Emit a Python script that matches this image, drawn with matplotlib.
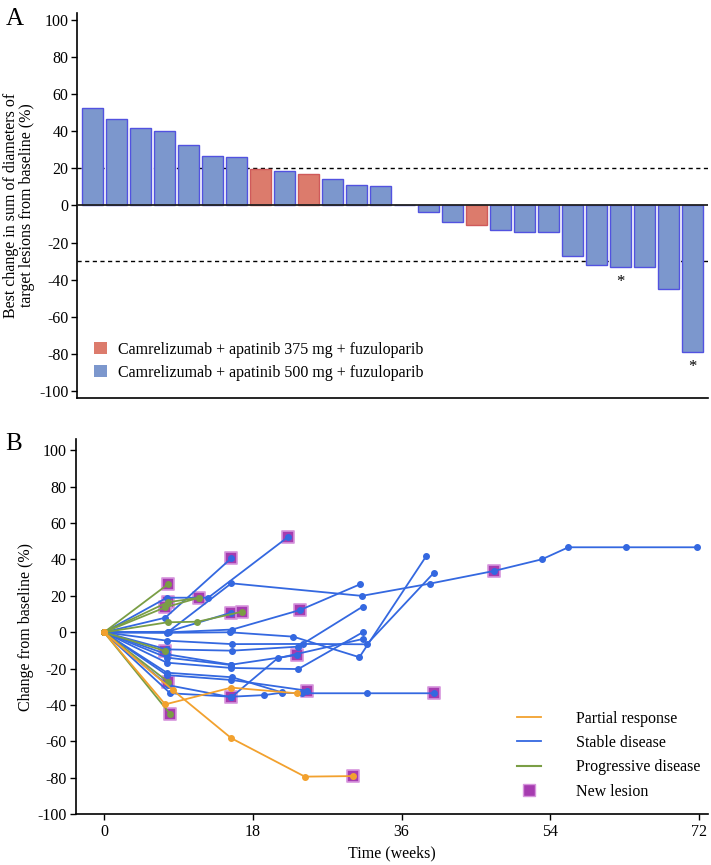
import matplotlib.pyplot as plt
from matplotlib.lines import Line2D
from matplotlib.patches import Patch

plt.rcParams['font.family'] = ['Liberation Serif', 'DejaVu Serif']
plt.rcParams['font.size'] = 11
plt.rcParams['axes.unicode_minus'] = False

# ---- panel A: waterfall ----
best_change = [52.5, 46.9, 42.1, 40.3, 32.8, 26.7, 26.3, 19.7, 18.8, 17.0, 14.3, 11.3, 10.4, 0.0,
               -3.6, -9.0, -10.6, -13.1, -14.2, -14.3, -27.2, -32.1, -33.2, -33.2, -45.3, -78.9]
dose_group = ['500'] * 7 + ['375', '500', '375'] + ['500'] * 6 + ['375'] + ['500'] * 9
asterisk_bars = [22, 25]
group_labels = {'375': 'Camrelizumab + apatinib 375 mg + fuzuloparib',
                '500': 'Camrelizumab + apatinib 500 mg + fuzuloparib'}

# ---- panel B: spider plot (weeks, % change) ----
sd_weeks = [[0, 7.6, 12.6, 22.3],
            [0, 7.4, 15.4],
            [0, 7.7, 15.4, 31.2, 39.4, 47.2, 53.0, 56.2, 63.2, 71.8],
            [0, 7.8, 15.5, 23.7, 31.0],
            [0, 7.6, 15.2, 22.9, 30.9, 39.0],
            [0, 7.6, 15.5, 24.1, 31.8, 39.9],
            [0, 7.7, 15.4],
            [0, 7.6, 15.5, 23.5, 31.3],
            [0, 7.6, 15.4, 23.3],
            [0, 7.7, 15.4, 21.0, 31.3],
            [0, 7.6, 15.4, 23.5, 31.3],
            [0, 8.0, 15.4, 19.4, 21.5, 23.9, 31.8, 39.9],
            [0, 7.6, 15.4, 24.6],
            [0, 7.6, 15.5, 21.5],
            [0, 7.6, 15.4]]
sd_change = [[0, 19.0, 19.0, 52.5],
             [0, 8.0, 40.7],
             [0, 0, 26.9, 20.0, 26.7, 33.7, 40.1, 46.7, 46.7, 46.7],
             [0, 0, 1.5, 12.2, 26.4],
             [0, -0.3, 0, -2.4, -13.7, 41.9],
             [0, -4.6, -6.5, -6.4, -6.6, 32.6],
             [0, 0.3, 10.8],
             [0, -9.4, -10.1, -7.9, 14.1],
             [0, -12.1, -17.8, -12.5],
             [0, -29.0, -35.7, -14.3, -3.7],
             [0, -16.7, -19.6, -20.2, 0],
             [0, -33.5, -35.4, -34.5, -33.2, -33.5, -33.5, -33.5],
             [0, -23.5, -26.2, -32.1],
             [0, -22.2, -24.7, -33.0],
             [0, -13.9, -18.0]]

pd_weeks = [[0, 7.7], [0, 7.7, 11.5], [0, 7.4, 11.5], [0, 7.7, 11.3, 16.7],
            [0, 7.4], [0, 7.7], [0, 8.0]]
pd_change = [[0, 26.3], [0, 16.5, 19.0], [0, 13.7, 19.0], [0, 5.5, 5.8, 11.3],
             [0, -10.3], [0, -27.1], [0, -44.9]]

pr_weeks = [[0, 7.4, 15.4, 23.3], [0, 8.3, 15.4, 24.3, 30.1]]
pr_change = [[0, -39.6, -30.4, -33.5], [0, -31.7, -58.2, -79.3, -79.0]]

new_lesion_weeks = [22.3, 15.4, 47.2, 23.7, 15.4, 23.3, 15.4, 39.9, 24.6, 30.1,
                    7.7, 7.7, 11.5, 7.4, 16.7, 7.4, 7.7, 8.0]
new_lesion_change = [52.5, 40.7, 33.7, 12.2, 10.8, -12.5, -35.7, -33.5, -32.1, -79.0,
                     26.3, 16.5, 19.0, 13.7, 11.3, -10.3, -27.1, -44.9]

bar_fill = {'375': '#DC7B6C', '500': '#7C97CD'}
bar_edge = {'375': '#CF5A5A', '500': '#5252E0'}
c_pr, c_sd, c_pd = '#F2A12E', '#3468E0', '#7A9E45'

fig = plt.figure(figsize=(7.11, 8.65), dpi=100)
ax1 = fig.add_axes([0.1083, 0.5399, 0.8875, 0.4451])
ax2 = fig.add_axes([0.1069, 0.0586, 0.8889, 0.4335])

# panel A
xs = list(range(len(best_change)))
ax1.axhline(20, color='black', ls=(0, (3, 2.5)), lw=1, zorder=1)
ax1.axhline(-30, color='black', ls=(0, (3, 2.5)), lw=1, zorder=1)
ax1.bar(xs, best_change, width=0.87,
        color=[bar_fill[g] for g in dose_group],
        edgecolor=[bar_edge[g] for g in dose_group], linewidth=1, zorder=2)
ax1.axhline(0, color='#222222', lw=1.3, zorder=3)
for i in asterisk_bars:
    ax1.text(i, best_change[i] - 4, '*', ha='center', va='top', fontsize=12)
ax1.set_xlim(-0.64, len(best_change) - 0.36)
ax1.set_ylim(-104, 104)
ax1.set_yticks(range(-100, 101, 20))
ax1.set_xticks([])
ax1.spines['top'].set_visible(False)
ax1.spines['right'].set_visible(False)
ax1.spines['left'].set_linewidth(1.2)
ax1.spines['bottom'].set_linewidth(1.2)
ax1.tick_params(axis='y', direction='out', length=4, width=1, pad=2, labelsize=11.5)
ax1.set_ylabel('Best change in sum of diameters of\ntarget lesions from baseline (%)',
               fontsize=11.5, labelpad=3, linespacing=1.05)
handles_a = [Patch(facecolor=bar_fill[g], edgecolor='none', label=group_labels[g])
             for g in ['375', '500']]
ax1.legend(handles=handles_a, loc='lower left', bbox_to_anchor=(0.004, 0.007),
           frameon=False, fontsize=11.5, handlelength=0.8, handleheight=0.8,
           handletextpad=0.7, labelspacing=0.45)
fig.text(0.008, 0.978, 'A', fontsize=18, va='center')

# panel B
ax2.scatter(new_lesion_weeks, new_lesion_change, marker='s', s=80,
            facecolor='#A63CB0', edgecolor='#D795DD', linewidth=1.2, zorder=2)
for wk, ch in zip(sd_weeks, sd_change):
    ax2.plot(wk, ch, color=c_sd, lw=1.3, marker='o', ms=4, zorder=3)
for wk, ch in zip(pd_weeks, pd_change):
    ax2.plot(wk, ch, color=c_pd, lw=1.3, marker='o', ms=4, zorder=4)
for wk, ch in zip(pr_weeks, pr_change):
    ax2.plot(wk, ch, color=c_pr, lw=1.3, marker='o', ms=4, zorder=4)

ax2.set_xlim(-3.4, 73.1)
ax2.set_ylim(-100, 106)
ax2.set_xticks([0, 18, 36, 54, 72])
ax2.set_yticks(range(-100, 101, 20))
ax2.spines['top'].set_visible(False)
ax2.spines['right'].set_visible(False)
ax2.spines['left'].set_linewidth(1.2)
ax2.spines['bottom'].set_linewidth(1.2)
ax2.tick_params(direction='out', length=4, width=1, pad=3, labelsize=11.5)
ax2.set_xlabel('Time (weeks)', fontsize=11.5, labelpad=4)
ax2.set_ylabel('Change from baseline (%)', fontsize=11.5, labelpad=2)
handles_b = [Line2D([], [], color=c_pr, lw=1.3, label='Partial response'),
             Line2D([], [], color=c_sd, lw=1.3, label='Stable disease'),
             Line2D([], [], color=c_pd, lw=1.5, label='Progressive disease'),
             Line2D([], [], color='none', marker='s', ms=8, markerfacecolor='#A63CB0',
                    markeredgecolor='#D795DD', label='New lesion')]
ax2.legend(handles=handles_b, loc='lower left', bbox_to_anchor=(0.675, 0.0),
           frameon=False, fontsize=11.5, handlelength=1.5, handletextpad=2.2,
           labelspacing=0.53)
fig.text(0.008, 0.487, 'B', fontsize=18, va='center')

fig.savefig('out.png', dpi=100)
